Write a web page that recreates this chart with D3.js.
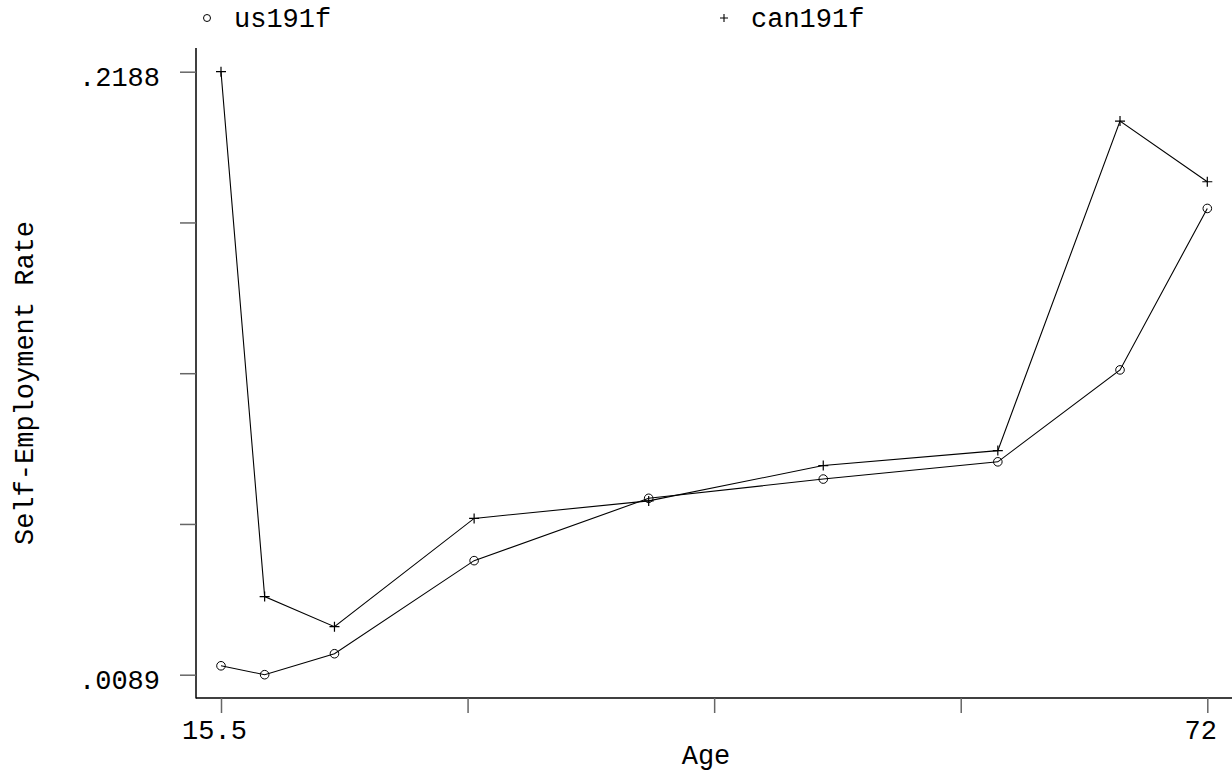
<!DOCTYPE html>
<html>
<head>
<meta charset="utf-8">
<script src="https://cdn.jsdelivr.net/npm/d3@7"></script>
<style>
  body { margin: 0; background: #fff; }
  text { font-family: "Liberation Mono", "DejaVu Sans Mono", monospace; font-size: 27px; fill: #000; }
</style>
</head>
<body>
<svg id="chart" width="1232" height="778"></svg>
<script>
// data
const ages = [15.5, 18, 22, 30, 40, 50, 60, 67, 72];
const us191f = [0.0120, 0.0089, 0.0162, 0.0486, 0.0703, 0.0770, 0.0830, 0.1150, 0.1712];
const can191f = [0.2188, 0.0361, 0.0256, 0.0633, 0.0694, 0.0817, 0.0869, 0.2016, 0.1805];
const xTicks = [15.5, 29.625, 43.75, 57.875, 72];
const xTickLabels = ["15.5", "", "", "", "72"];
const yTicks = [0.0089, 0.061375, 0.11385, 0.166325, 0.2188];
const yTickLabels = [".0089", "", "", "", ".2188"];

let dims = {
    width: 1232,
    height: 778,
    axisLeft: 196,
    axisBottom: 698,
    axisTop: 48
};

const svg = d3.select("#chart");

const x = d3.scaleLinear()
    .domain([15.5, 72])
    .range([221, 1207.3]);

const y = d3.scaleLinear()
    .domain([0.0089, 0.2188])
    .range([674.7, 71.7]);

// axis lines
svg.append("line")
    .attr("x1", dims.axisLeft).attr("x2", dims.axisLeft)
    .attr("y1", dims.axisTop).attr("y2", dims.axisBottom + 0.5)
    .attr("stroke", "#000").attr("stroke-width", 1.5);

svg.append("line")
    .attr("x1", dims.axisLeft).attr("x2", dims.width)
    .attr("y1", dims.axisBottom).attr("y2", dims.axisBottom)
    .attr("stroke", "#000").attr("stroke-width", 1.5);

// x ticks
const xAxis = svg.append("g")
    .attr("class", "x axis")
    .attr("transform", `translate(0, ${dims.axisBottom})`)
    .call(d3.axisBottom(x).tickValues(xTicks).tickSize(15)
        .tickFormat((d, i) => xTickLabels[i]));
xAxis.select(".domain").remove();
xAxis.selectAll("line").attr("stroke", "#666").attr("stroke-width", 1.5);
xAxis.selectAll("text")
    .attr("font-size", 27)
    .attr("font-family", null)
    .attr("dx", -7)
    .attr("y", 22);

// y ticks
const yAxis = svg.append("g")
    .attr("class", "y axis")
    .attr("transform", `translate(${dims.axisLeft}, 0)`)
    .call(d3.axisLeft(y).tickValues(yTicks).tickSize(16)
        .tickFormat((d, i) => yTickLabels[i]));
yAxis.select(".domain").remove();
yAxis.selectAll("line").attr("stroke", "#666").attr("stroke-width", 1.5);
yAxis.selectAll("text")
    .attr("font-size", 27)
    .attr("font-family", null)
    .attr("x", -36)
    .attr("dy", 13.5);

// axis titles
svg.append("text")
    .attr("x", 706)
    .attr("y", 764)
    .attr("text-anchor", "middle")
    .text("Age");

svg.append("text")
    .attr("transform", "translate(33, 383) rotate(-90)")
    .attr("text-anchor", "middle")
    .text("Self-Employment Rate");

// lines
const usData = ages.map((a, i) => ({ age: a, v: us191f[i] }));
const canData = ages.map((a, i) => ({ age: a, v: can191f[i] }));

const line = d3.line()
    .x(d => x(d.age))
    .y(d => y(d.v));

svg.append("path")
    .datum(usData)
    .attr("d", line)
    .attr("fill", "none")
    .attr("stroke", "#000")
    .attr("stroke-width", 1.1);

svg.append("path")
    .datum(canData)
    .attr("d", line)
    .attr("fill", "none")
    .attr("stroke", "#000")
    .attr("stroke-width", 1.1);

// markers
svg.selectAll("circle.us")
    .data(usData)
    .enter()
    .append("circle")
    .attr("class", "us")
    .attr("cx", d => x(d.age))
    .attr("cy", d => y(d.v))
    .attr("r", 4.3)
    .attr("fill", "none")
    .attr("stroke", "#000")
    .attr("stroke-width", 1);

function plusPath(cx, cy, s) {
    return `M${cx - s},${cy}H${cx + s}M${cx},${cy - s}V${cy + s}`;
}

svg.selectAll("path.can")
    .data(canData)
    .enter()
    .append("path")
    .attr("class", "can")
    .attr("d", d => plusPath(x(d.age), y(d.v), 5))
    .attr("stroke", "#000")
    .attr("stroke-width", 1.2)
    .attr("fill", "none");

// legend
svg.append("circle")
    .attr("cx", 207).attr("cy", 18).attr("r", 3.5)
    .attr("fill", "none").attr("stroke", "#000").attr("stroke-width", 1);
svg.append("text")
    .attr("x", 234).attr("y", 27)
    .text("us191f");

svg.append("path")
    .attr("d", plusPath(724, 18, 4))
    .attr("stroke", "#000").attr("stroke-width", 1.1);
svg.append("text")
    .attr("x", 751).attr("y", 27)
    .text("can191f");
</script>
</body>
</html>
